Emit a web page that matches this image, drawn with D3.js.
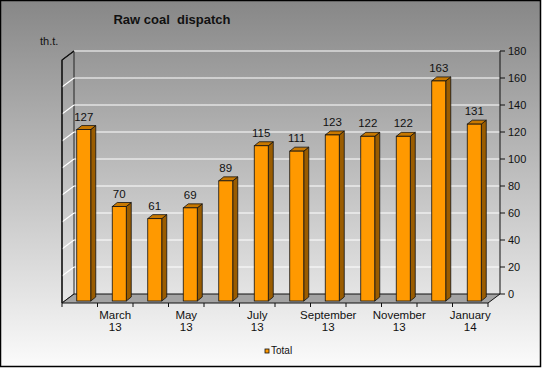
<!DOCTYPE html>
<html>
  <head>
    <title>Raw coal dispatch</title>
    <script src="https://d3js.org/d3.v7.min.js"></script>
    <style>
      body { margin: 0; background: #fff; }
      text { font-family: "Liberation Sans", Arial, sans-serif; fill: #111; }
    </style>
  </head>
  <body>
    <script>
      // Chart data
      const months = ["February", "March", "April", "May", "June", "July",
                      "August", "September", "October", "November", "December", "January"];
      const years = ["13", "13", "13", "13", "13", "13", "13", "13", "13", "13", "13", "14"];
      const values = [127, 70, 61, 69, 89, 115, 111, 123, 122, 122, 163, 131];
      const yTicks = [0, 20, 40, 60, 80, 100, 120, 140, 160, 180];
      const seriesName = "Total";

      const width = 543;
      const height = 368;
      // depth offset of the 3d box (front relative to back wall)
      const dx = -12, dy = 9;

      const svg = d3.select("body")
        .append("svg")
        .attr("width", width)
        .attr("height", height);

      const defs = svg.append("defs");
      const bg = defs.append("linearGradient")
        .attr("id", "bg").attr("x1", 0).attr("y1", 0).attr("x2", 0).attr("y2", 1);
      bg.append("stop").attr("offset", "0%").attr("stop-color", "#878787");
      bg.append("stop").attr("offset", "100%").attr("stop-color", "#fbfbfb");

      // background + border
      svg.append("rect")
        .attr("x", 0.5).attr("y", 0.5)
        .attr("width", 540).attr("height", 366)
        .attr("fill", "url(#bg)")
        .attr("stroke", "#000")
        .attr("stroke-width", 1.5);

      const x = d3.scaleBand()
        .domain(months.map((m, i) => i))
        .range([74, 500]);
      const y = d3.scaleLinear()
        .domain([0, 180])
        .range([294, 51]);

      const xl = x.range()[0], xr = x.range()[1];

      // left wall
      svg.append("path")
        .attr("d", `M${xl + dx},${y(180) + dy}L${xl},${y(180)}L${xl},${y(0)}L${xl + dx},${y(0) + dy}Z`)
        .attr("fill", "none")
        .attr("stroke", "#222")
        .attr("stroke-width", 1);

      // grid lines on back wall and left wall
      const grid = svg.append("g");
      grid.selectAll("line.back")
        .data(yTicks.filter(d => d > 0))
        .enter()
        .append("line")
        .attr("class", "back")
        .attr("x1", xl).attr("x2", xr)
        .attr("y1", d => y(d)).attr("y2", d => y(d))
        .attr("stroke", "#fff")
        .attr("stroke-width", 1.2);
      grid.selectAll("line.side")
        .data(yTicks.filter(d => d > 0 && d < 180))
        .enter()
        .append("line")
        .attr("class", "side")
        .attr("x1", xl + dx).attr("x2", xl)
        .attr("y1", d => y(d) + dy).attr("y2", d => y(d))
        .attr("stroke", "#fff")
        .attr("stroke-width", 1.2);

      // left wall edges on top of grid
      svg.append("path")
        .attr("d", `M${xl + dx},${y(0) + dy}L${xl + dx},${y(180) + dy}L${xl},${y(180)}`)
        .attr("fill", "none")
        .attr("stroke", "#111")
        .attr("stroke-width", 1.3);

      // floor
      svg.append("path")
        .attr("d", `M${xl},${y(0)}L${xr},${y(0)}L${xr + dx},${y(0) + dy}L${xl + dx},${y(0) + dy}Z`)
        .attr("fill", "#a3a3a3")
        .attr("stroke", "#111")
        .attr("stroke-width", 1);

      // right axis
      const yAxis = svg.append("g");
      yAxis.append("line")
        .attr("x1", xr).attr("x2", xr)
        .attr("y1", y(180)).attr("y2", y(0))
        .attr("stroke", "#111");
      yAxis.selectAll("line.tick")
        .data(yTicks)
        .enter()
        .append("line")
        .attr("class", "tick")
        .attr("x1", xr).attr("x2", xr + 5)
        .attr("y1", d => y(d)).attr("y2", d => y(d))
        .attr("stroke", "#111");
      yAxis.selectAll("text")
        .data(yTicks)
        .enter()
        .append("text")
        .attr("x", xr + 8)
        .attr("y", d => y(d) + 4)
        .attr("font-size", 11)
        .text(d => d);

      // bars
      const fw = 14, bdx = 5, bdy = 4, fOffX = -15, fOffY = 7;
      const bars = svg.append("g").selectAll("g")
        .data(values)
        .enter()
        .append("g");
      const fx = (d, i) => x(i) + x.bandwidth() / 2 + fOffX;
      const fy = d => y(d) + fOffY;
      const fb = y(0) + fOffY;

      bars.append("path")
        .attr("d", (d, i) => `M${fx(d, i) + fw},${fy(d)}L${fx(d, i) + fw + bdx},${fy(d) - bdy}L${fx(d, i) + fw + bdx},${fb - bdy}L${fx(d, i) + fw},${fb}Z`)
        .attr("fill", "#9a5c00")
        .attr("stroke", "#111")
        .attr("stroke-width", 0.8);
      bars.append("path")
        .attr("d", (d, i) => `M${fx(d, i)},${fy(d)}L${fx(d, i) + bdx},${fy(d) - bdy}L${fx(d, i) + fw + bdx},${fy(d) - bdy}L${fx(d, i) + fw},${fy(d)}Z`)
        .attr("fill", "#c87800")
        .attr("stroke", "#111")
        .attr("stroke-width", 0.8);
      bars.append("rect")
        .attr("x", fx)
        .attr("y", fy)
        .attr("width", fw)
        .attr("height", d => fb - fy(d))
        .attr("fill", "#ff9900")
        .attr("stroke", "#111")
        .attr("stroke-width", 0.8);

      // value labels
      bars.append("text")
        .attr("x", (d, i) => fx(d, i) + fw / 2)
        .attr("y", d => fy(d) - 9)
        .attr("text-anchor", "middle")
        .attr("font-size", 11.5)
        .text(d => d);

      // x axis along front edge of floor
      const xAxis = svg.append("g");
      const bottom = y(0) + dy;
      xAxis.selectAll("line")
        .data(d3.range(months.length + 1))
        .enter()
        .append("line")
        .attr("x1", i => (i < months.length ? x(i) : xr) + dx)
        .attr("x2", i => (i < months.length ? x(i) : xr) + dx)
        .attr("y1", bottom).attr("y2", bottom + 4)
        .attr("stroke", "#111");
      const lab = xAxis.selectAll("text")
        .data(months.map((m, i) => i).filter(i => i % 2 === 1))
        .enter()
        .append("text")
        .attr("text-anchor", "middle")
        .attr("font-size", 11.5);
      lab.append("tspan")
        .attr("x", i => x(i) + x.bandwidth() / 2 + dx)
        .attr("y", bottom + 16)
        .text(i => months[i]);
      lab.append("tspan")
        .attr("x", i => x(i) + x.bandwidth() / 2 + dx)
        .attr("y", bottom + 28)
        .text(i => years[i]);

      // title and unit
      svg.append("text")
        .attr("x", 172).attr("y", 24)
        .attr("text-anchor", "middle")
        .attr("font-size", 13)
        .attr("font-weight", "bold")
        .attr("xml:space", "preserve")
        .text("Raw coal  dispatch");
      svg.append("text")
        .attr("x", 40).attr("y", 45)
        .attr("font-size", 11)
        .text("th.t.");

      // legend
      const legend = svg.append("g").attr("transform", "translate(265,349)");
      legend.append("rect")
        .attr("width", 4).attr("height", 4)
        .attr("fill", "#ff9900")
        .attr("stroke", "#111")
        .attr("stroke-width", 0.8);
      legend.append("text")
        .attr("x", 6).attr("y", 5)
        .attr("font-size", 10)
        .text(seriesName);
    </script>
  </body>
</html>
